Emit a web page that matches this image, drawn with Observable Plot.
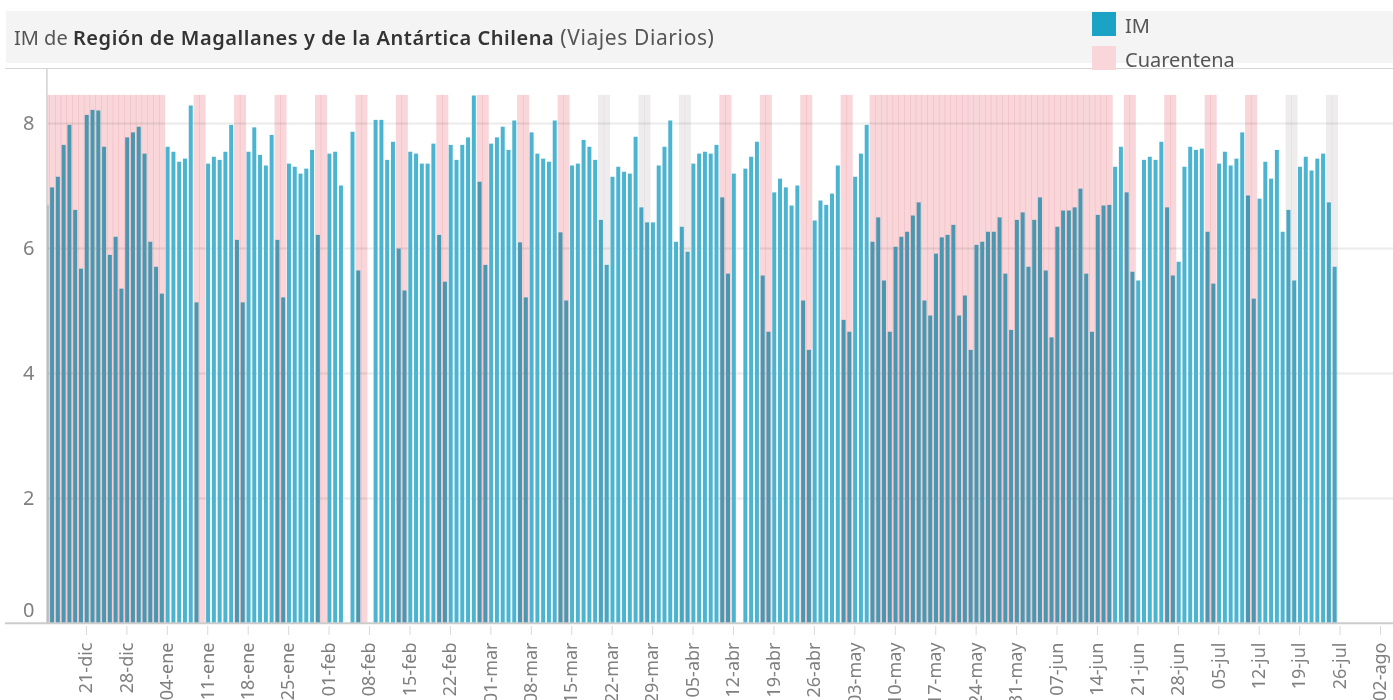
<!DOCTYPE html>
<html>
<head>
<meta charset="utf-8">
<script src="https://cdn.jsdelivr.net/npm/d3@7"></script>
<script src="https://cdn.jsdelivr.net/npm/@observablehq/plot@0.6"></script>
<style>
  html, body { margin: 0; padding: 0; overflow: hidden; background: #fff; }
  #wrap { position: relative; width: 1393px; height: 700px; font-family: "Noto Sans", sans-serif; }
  #chart { position: absolute; left: 0; top: 0; }
  #overlay { position: absolute; left: 0; top: 0; pointer-events: none; }
</style>
</head>
<body>
<div id="wrap">
  <div id="chart"></div>
  <svg id="overlay" width="1393" height="700" xmlns="http://www.w3.org/2000/svg">
    <rect x="6" y="11" width="1387" height="52" fill="#f4f4f4"></rect>
    <line x1="5" x2="1393" y1="68.5" y2="68.5" stroke="#d6d6d6" stroke-width="1"></line>
    <line x1="5" x2="1393" y1="623.3" y2="623.3" stroke="#cccccc" stroke-width="2"></line>
    <text x="14" y="45" font-size="20" fill="#555555" font-family="'Noto Sans', sans-serif"><tspan>IM de </tspan><tspan font-weight="600" fill="#333333" letter-spacing="0.55">Región de Magallanes y de la Antártica Chilena</tspan><tspan font-size="21" letter-spacing="0.6"> (Viajes Diarios)</tspan></text>
    <rect x="1092" y="12" width="24" height="24" fill="#1ba3c6"></rect>
    <text x="1125" y="33" font-size="20" fill="#555555" font-family="'Noto Sans', sans-serif">IM</text>
    <rect x="1092" y="46" width="24" height="24" fill="#f8d6d9"></rect>
    <text x="1125" y="67" font-size="20" fill="#555555" font-family="'Noto Sans', sans-serif">Cuarentena</text>
  </svg>
</div>
<script>
// ---- data ----
const startDate = "2020-12-14"; // first day of the daily series
const imValues = [
  6.69, 6.97, 7.14, 7.65, 7.97, 6.61, 5.67, 8.13, 8.21, 8.20,
  7.62, 5.89, 6.18, 5.35, 7.77, 7.85, 7.94, 7.51, 6.10, 5.70,
  5.27, 7.62, 7.54, 7.38, 7.43, 8.28, 5.13, null, 7.35, 7.46,
  7.41, 7.54, 7.97, 6.13, 5.13, 7.54, 7.93, 7.49, 7.32, 7.81,
  6.13, 5.21, 7.35, 7.30, 7.19, 7.27, 7.57, 6.21, null, 7.51,
  7.54, 7.00, null, 7.86, 5.64, null, null, 8.05, 8.05, 7.41,
  7.70, 5.99, 5.32, 7.54, 7.51, 7.35, 7.35, 7.67, 6.21, 5.46,
  7.65, 7.41, 7.65, 7.77, 8.44, 7.06, 5.73, 7.67, 7.77, 7.94,
  7.57, 8.04, 6.09, 5.21, 7.85, 7.51, 7.43, 7.38, 8.04, 6.25,
  5.16, 7.32, 7.35, 7.73, 7.62, 7.41, 6.45, 5.73, 7.14, 7.30,
  7.22, 7.19, 7.78, 6.65, 6.41, 6.41, 7.32, 7.62, 8.04, 6.10,
  6.34, 5.94, 7.35, 7.51, 7.54, 7.51, 7.65, 6.81, 5.59, 7.19,
  null, 7.27, 7.46, 7.70, 5.56, 4.66, 6.89, 7.11, 6.97, 6.68,
  7.00, 5.16, 4.37, 6.44, 6.76, 6.69, 6.87, 7.32, 4.85, 4.66,
  7.14, 7.51, 7.97, 6.10, 6.49, 5.48, 4.66, 6.02, 6.18, 6.26,
  6.52, 6.73, 5.16, 4.92, 5.91, 6.17, 6.21, 6.37, 4.92, 5.24,
  4.37, 6.05, 6.10, 6.26, 6.26, 6.49, 5.59, 4.69, 6.45, 6.57,
  5.70, 6.45, 6.81, 5.64, 4.57, 6.34, 6.60, 6.60, 6.65, 6.95,
  5.59, 4.66, 6.53, 6.68, 6.69, 7.30, 7.62, 6.89, 5.62, 5.48,
  7.41, 7.46, 7.41, 7.70, 6.65, 5.56, 5.78, 7.30, 7.62, 7.57,
  7.59, 6.26, 5.43, 7.35, 7.54, 7.32, 7.43, 7.85, 6.84, 5.19,
  6.79, 7.38, 7.11, 7.57, 6.26, 6.61, 5.48, 7.30, 7.46, 7.24,
  7.43, 7.51, 6.73, 5.70
];
const quarantinePeriods = [
  ["2020-12-14", "2021-01-03"], ["2021-01-09", "2021-01-10"], ["2021-01-16", "2021-01-17"],
  ["2021-01-23", "2021-01-24"], ["2021-01-30", "2021-01-31"], ["2021-02-06", "2021-02-07"],
  ["2021-02-13", "2021-02-14"], ["2021-02-20", "2021-02-21"], ["2021-02-27", "2021-02-28"],
  ["2021-03-06", "2021-03-07"], ["2021-03-13", "2021-03-14"], ["2021-04-10", "2021-04-11"],
  ["2021-04-17", "2021-04-18"], ["2021-04-24", "2021-04-25"], ["2021-05-01", "2021-05-02"],
  ["2021-05-06", "2021-06-16"], ["2021-06-19", "2021-06-20"], ["2021-06-26", "2021-06-27"],
  ["2021-07-03", "2021-07-04"], ["2021-07-10", "2021-07-11"]
];
const otherPeriods = [
  ["2021-03-20", "2021-03-21"], ["2021-03-27", "2021-03-28"], ["2021-04-03", "2021-04-04"],
  ["2021-07-17", "2021-07-18"], ["2021-07-24", "2021-07-25"]
];
const quarantineTop = 8.45;
const tickLabels = ["21-dic","28-dic","04-ene","11-ene","18-ene","25-ene","01-feb","08-feb","15-feb","22-feb",
  "01-mar","08-mar","15-mar","22-mar","29-mar","05-abr","12-abr","19-abr","26-abr","03-may","10-may",
  "17-may","24-may","31-may","07-jun","14-jun","21-jun","28-jun","05-jul","12-jul","19-jul","26-jul","02-ago"];
const yTicks = [0, 2, 4, 6, 8];
const yMax = 8.88;

// ---- build ----
const DAY = 864e5;
const t0 = Date.parse(startDate + "T00:00:00Z");
const monthIdx = {ene:0, feb:1, mar:2, abr:3, may:4, jun:5, jul:6, ago:7, sep:8, oct:9, nov:10, dic:11};
const tickDates = tickLabels.map(s => {
  const [dd, mm] = s.split("-");
  const m = monthIdx[mm];
  return new Date(Date.UTC(m === 11 ? 2020 : 2021, m, +dd));
});
const labelOf = new Map(tickDates.map((d, i) => [+d, tickLabels[i]]));

const xStart = new Date(t0 + 0.26 * DAY);
const xEnd = new Date(t0 + 233.24 * DAY);
const shift = 0.14; // bar centre offset (days)

const bars = imValues.map((v, i) => ({t: t0 + (i + shift) * DAY, v})).filter(d => d.v != null);

function expand(periods) {
  const out = [];
  for (const [a, b] of periods) {
    for (let t = Date.parse(a + "T00:00:00Z"); t <= Date.parse(b + "T00:00:00Z"); t += DAY) out.push(t + shift * DAY);
  }
  return out;
}
const qDays = expand(quarantinePeriods);
const oDays = expand(otherPeriods);
const clampL = t => new Date(Math.max(+xStart, t));

const chart = Plot.plot({
  width: 1393,
  height: 700,
  marginLeft: 47,
  marginRight: 0,
  marginTop: 68,
  marginBottom: 77,
  style: {fontFamily: "'Noto Sans', sans-serif", background: "white", overflow: "visible"},
  x: {type: "utc", domain: [xStart, xEnd]},
  y: {domain: [0, yMax]},
  marks: [
    Plot.gridY([2, 4, 6, 8], {stroke: "#ebebeb", strokeOpacity: 1, strokeWidth: 2}),
    Plot.rect(bars, {
      x1: d => clampL(d.t - 0.345 * DAY),
      x2: d => new Date(d.t + 0.345 * DAY),
      y1: 0, y2: "v",
      fill: "#4bb4d0"
    }),
    Plot.rect(qDays, {
      x1: d => clampL(d - 0.5 * DAY),
      x2: d => new Date(d + 0.58 * DAY),
      y1: 0, y2: quarantineTop,
      fill: "#f8d6d9",
      ariaDescription: "cuarentena"
    }),
    Plot.rect(oDays, {
      x1: d => clampL(d - 0.5 * DAY),
      x2: d => new Date(d + 0.58 * DAY),
      y1: 0, y2: quarantineTop,
      fill: "#efeced",
      ariaDescription: "otro"
    }),
    Plot.ruleX([xStart], {stroke: "#d4d4d4", strokeWidth: 1.6, dx: -0.6}),
    Plot.axisY(yTicks.filter(v => v !== 0), {
      anchor: "left", tickSize: 0, tickPadding: 13, fontSize: 20, color: "#808080", label: null,
      tickFormat: d => String(d)
    }),
    Plot.axisY(yTicks.filter(v => v === 0), {
      anchor: "left", tickSize: 0, tickPadding: 13, fontSize: 20, color: "#808080", dy: -13, label: null,
      tickFormat: d => String(d)
    }),
    Plot.axisX(tickDates, {
      anchor: "bottom", tickRotate: -90, tickSize: 9, tickPadding: 7, fontSize: 18,
      color: "#7f7f7f", stroke: "#d9d9d9", dy: 3,
      tickFormat: d => labelOf.get(+d), label: null
    })
  ]
});
document.getElementById("chart").appendChild(chart);
// per-element multiply blending for the shaded day bands
d3.select(chart).selectAll('g[aria-description="cuarentena"] rect, g[aria-description="otro"] rect')
  .style("mix-blend-mode", "multiply");
</script>
</body>
</html>
